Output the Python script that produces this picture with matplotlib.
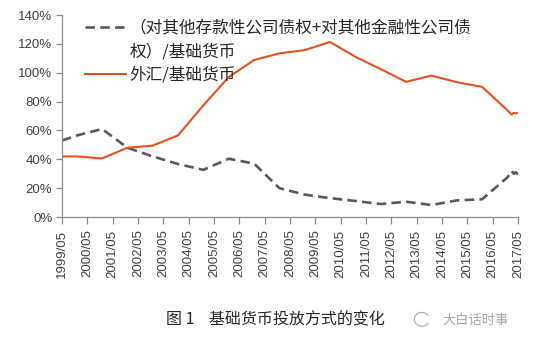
import matplotlib
matplotlib.use("Agg")
import matplotlib.pyplot as plt
from matplotlib.lines import Line2D
from matplotlib.patches import Arc

plt.rcParams['font.family'] = ['Noto Sans CJK SC', 'DejaVu Sans']

# Observation dates (year-end points plus monthly points in 2017)
dates = ["1999/05", "1999/12", "2000/12", "2001/12", "2002/12", "2003/12",
         "2004/12", "2005/12", "2006/12", "2007/12", "2008/12", "2009/12",
         "2010/12", "2011/12", "2012/12", "2013/12", "2014/12", "2015/12",
         "2016/12", "2017/01", "2017/02", "2017/03", "2017/04", "2017/05"]

# (对其他存款性公司债权+对其他金融性公司债权)/基础货币, %
claims_ratio = [53, 56.5, 61, 48, 42, 36.7, 32.7, 40.4, 37, 20, 15.5, 13.1,
                11.1, 9.0, 10.6, 8.3, 11.5, 12.3, 27.5, 29.5, 32, 30, 31, 29.5]

# 外汇/基础货币, %
fx_ratio = [42, 42, 40.6, 48, 49.5, 56.6, 77.5, 97, 108.8, 113.4, 115.7, 121.3,
            111, 102.5, 93.7, 98, 93.5, 90.2, 74, 72.5, 71, 72.2, 71.8, 72.3]

tick_labels = [f"{y}/05" for y in range(1999, 2018)]
y_ticks = [0, 20, 40, 60, 80, 100, 120, 140]

legend_claims = "（对其他存款性公司债权+对其他金融性公司债"
legend_claims_2 = "权）/基础货币"
legend_fx = "外汇/基础货币"
caption = "图 1    基础货币投放方式的变化"
source = "大白话时事"


def months_from_start(d, start="1999/05"):
    y, m = map(int, d.split("/"))
    y0, m0 = map(int, start.split("/"))
    return (y - y0) * 12 + (m - m0)


x = [months_from_start(d) for d in dates]
tick_pos = [months_from_start(t) for t in tick_labels]

fig = plt.figure(figsize=(5.34, 3.46), dpi=100)
ax = fig.add_axes([0.1161, 0.3728, 0.8539, 0.5838])

dash_color = "#535a66"
red_color = "#e4521f"
axis_color = "#8c8c8c"
dash_style = (0, (3.6, 2.0))

ax.plot(x, claims_ratio, color=dash_color, lw=1.9, ls=dash_style,
        dash_capstyle="butt")
ax.plot(x, fx_ratio, color=red_color, lw=1.5)

ax.set_xlim(tick_pos[0], tick_pos[-1])
ax.set_ylim(0, 140)
ax.set_yticks(y_ticks)
ax.set_yticklabels([f"{v}%" for v in y_ticks], family="Liberation Sans",
                   fontsize=9.5, color="#404040")
ax.set_xticks(tick_pos)
ax.set_xticklabels(tick_labels, rotation=90, family="Liberation Sans",
                   fontsize=9.5, color="#404040")

for side in ("top", "right"):
    ax.spines[side].set_visible(False)
for side in ("left", "bottom"):
    ax.spines[side].set_color(axis_color)
    ax.spines[side].set_linewidth(0.9)
ax.tick_params(axis="both", direction="out", length=4, width=0.9,
               color=axis_color, pad=3)
ax.tick_params(axis="x", length=5, pad=4)

handles = [
    Line2D([], [], color=dash_color, lw=1.9, ls=dash_style),
    Line2D([], [], color="none"),
    Line2D([], [], color=red_color, lw=1.5),
]
leg = ax.legend(handles, [legend_claims, legend_claims_2, legend_fx],
                loc="upper left", bbox_to_anchor=(0.035, 1.01),
                frameon=False, fontsize=12, handlelength=2.5,
                handletextpad=0.2, labelspacing=0.4, borderaxespad=0)
for t in leg.get_texts():
    t.set_color("#262626")

fig.text(0.515, 0.075, caption, ha="center", va="center", fontsize=11.5,
         color="#262626")
fig.text(0.89, 0.075, source, ha="center", va="center", fontsize=9.5,
         color="#a6a6a6")
fig.patches.append(Arc((0.79, 0.077), 0.028, 0.04, theta1=40, theta2=320,
                       transform=fig.transFigure, color="#b0b0b0", lw=0.9))

fig.savefig("out.png", dpi=100)
